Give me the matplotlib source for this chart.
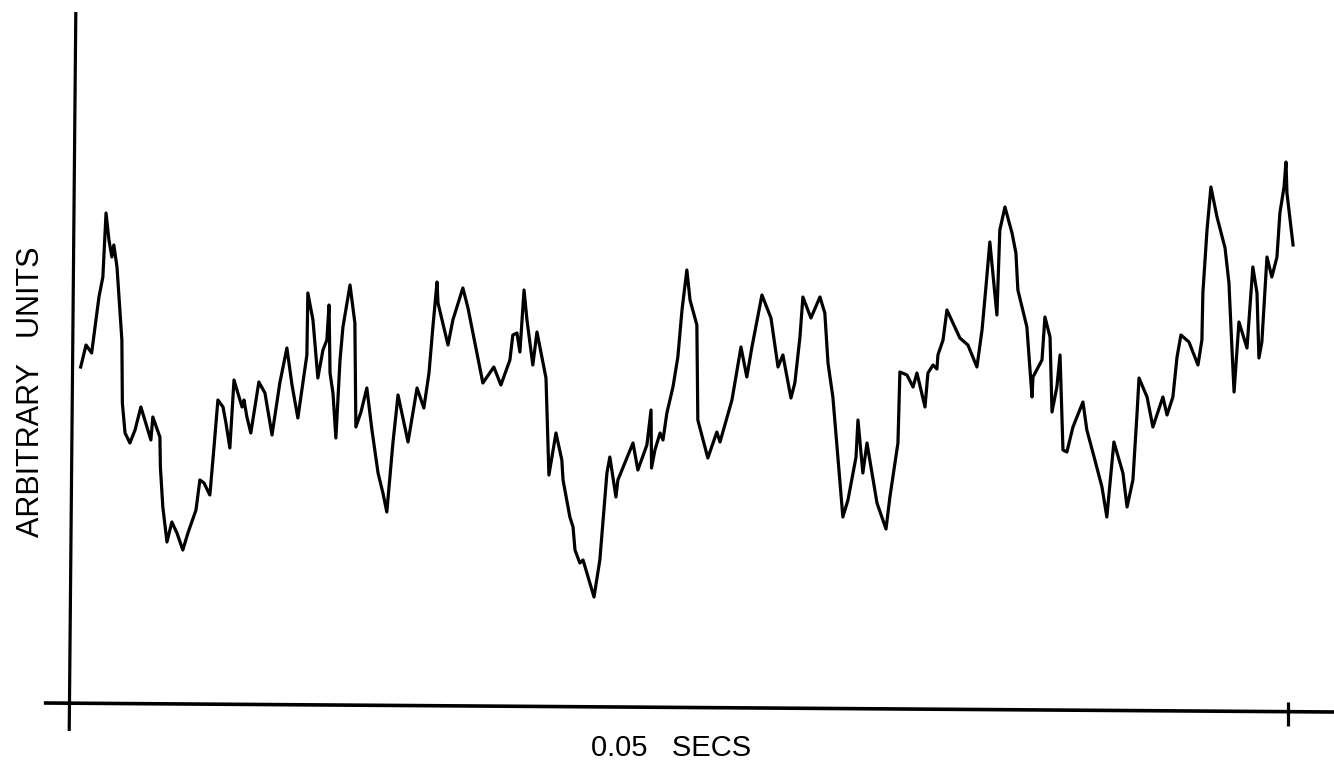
#!/usr/bin/env python3
"""Pen-recorder style trace of a signal over a 0.05 s window."""

import matplotlib

matplotlib.use("Agg")
import matplotlib.pyplot as plt

# time in ms, amplitude in arbitrary units (baseline = 0)
TIME_MS = [
    0.47, 0.69, 0.92, 1.22, 1.38, 1.51, 1.63, 1.75, 1.83, 1.96,
    2.16, 2.18, 2.29, 2.49, 2.70, 2.94, 3.19, 3.35, 3.43, 3.72,
    3.74, 3.84, 4.01, 4.21, 4.42, 4.66, 4.87, 5.20, 5.36, 5.53,
    5.77, 5.94, 6.10, 6.31, 6.43, 6.59, 6.76, 6.92, 7.09, 7.17,
    7.29, 7.45, 7.78, 8.03, 8.32, 8.64, 8.93, 9.14, 9.38, 9.75,
    9.79, 10.00, 10.20, 10.41, 10.57, 10.66, 10.70, 10.82, 10.94, 11.11,
    11.23, 11.52, 11.72, 11.76, 11.97, 12.21, 12.42, 12.67, 12.87, 13.03,
    13.28, 13.49, 13.90, 14.27, 14.55, 14.76, 14.92, 15.09, 15.13, 15.54,
    15.74, 16.15, 16.36, 16.97, 17.42, 17.71, 18.08, 18.20, 18.37, 18.49,
    18.66, 18.78, 19.02, 19.19, 19.56, 19.68, 19.97, 20.21, 20.26, 20.54,
    20.67, 20.75, 20.95, 21.08, 21.53, 21.77, 22.06, 22.18, 22.43, 22.51,
    23.13, 23.33, 23.70, 23.87, 23.89, 24.03, 24.24, 24.36, 24.52, 24.77,
    24.97, 25.14, 25.34, 25.47, 25.75, 25.79, 26.20, 26.57, 26.70, 27.19,
    27.56, 27.80, 28.01, 28.42, 28.79, 29.08, 29.28, 29.61, 29.77, 29.98,
    30.10, 30.43, 30.80, 31.00, 31.13, 31.33, 31.74, 31.95, 32.28, 32.36,
    32.56, 32.73, 33.14, 33.51, 33.67, 34.00, 34.08, 34.37, 34.62, 34.78,
    35.11, 35.23, 35.44, 35.60, 35.64, 35.85, 36.01, 36.54, 36.87, 37.24,
    37.45, 37.61, 37.77, 38.06, 38.18, 38.39, 38.68, 38.84, 38.92, 39.29,
    39.50, 39.54, 39.91, 40.03, 40.24, 40.32, 40.52, 40.65, 40.77, 40.93,
    41.18, 41.59, 41.75, 42.08, 42.37, 42.57, 42.86, 43.23, 43.40, 43.64,
    43.81, 43.89, 44.22, 44.46, 44.87, 45.04, 45.28, 45.45, 45.61, 45.94,
    46.31, 46.47, 46.51, 46.68, 46.84, 47.09, 47.42, 47.58, 47.70, 47.79,
    47.99, 48.32, 48.56, 48.73, 48.81, 48.93, 49.14, 49.34, 49.55, 49.67,
    49.84, 49.92, 49.96, 50.21,
]
AMPLITUDE = [
    3.36, 3.58, 3.50, 4.06, 4.26, 4.90, 4.63, 4.46, 4.58, 4.36,
    3.63, 3.00, 2.70, 2.60, 2.73, 2.96, 2.76, 2.63, 2.86, 2.66,
    2.36, 1.96, 1.61, 1.81, 1.70, 1.53, 1.70, 1.93, 2.23, 2.20,
    2.08, 2.56, 3.03, 2.96, 2.80, 2.55, 3.23, 3.10, 2.96, 3.03,
    2.86, 2.70, 3.21, 3.10, 2.68, 3.20, 3.55, 3.18, 2.85, 3.48,
    4.10, 3.83, 3.25, 3.53, 3.63, 3.98, 3.30, 3.10, 2.65, 3.43,
    3.76, 4.18, 3.80, 2.76, 2.91, 3.15, 2.73, 2.30, 2.10, 1.91,
    2.60, 3.08, 2.61, 3.15, 2.95, 3.30, 3.76, 4.21, 4.00, 3.58,
    3.83, 4.15, 3.95, 3.20, 3.36, 3.18, 3.43, 3.68, 3.70, 3.51,
    4.13, 3.83, 3.38, 3.71, 3.25, 2.28, 2.70, 2.43, 2.23, 1.86,
    1.76, 1.53, 1.40, 1.43, 1.06, 1.43, 2.30, 2.46, 2.06, 2.23,
    2.60, 2.33, 2.58, 2.93, 2.35, 2.53, 2.70, 2.63, 2.90, 3.16,
    3.46, 3.93, 4.33, 4.03, 3.78, 2.83, 2.45, 2.71, 2.61, 3.03,
    3.56, 3.26, 3.56, 4.08, 3.85, 3.36, 3.48, 3.05, 3.20, 3.66,
    4.06, 3.85, 4.06, 3.90, 3.40, 3.06, 1.86, 2.03, 2.46, 2.83,
    2.30, 2.60, 2.00, 1.74, 2.06, 2.60, 3.31, 3.28, 3.16, 3.30,
    2.96, 3.30, 3.38, 3.34, 3.48, 3.63, 3.93, 3.65, 3.58, 3.36,
    3.73, 4.16, 4.61, 3.88, 4.73, 4.96, 4.70, 4.50, 4.13, 3.76,
    3.06, 3.26, 3.43, 3.86, 3.66, 2.91, 3.16, 3.48, 2.53, 2.51,
    2.76, 3.01, 2.73, 2.43, 2.16, 1.86, 2.61, 2.30, 1.96, 2.23,
    2.90, 3.25, 3.06, 2.76, 3.06, 2.88, 3.06, 3.46, 3.68, 3.61,
    3.38, 3.63, 4.10, 4.73, 5.16, 4.86, 4.55, 4.20, 3.56, 3.11,
    3.81, 3.55, 4.36, 4.10, 3.45, 3.61, 4.46, 4.26, 4.46, 4.90,
    5.16, 5.41, 5.10, 4.58,
]
assert len(TIME_MS) == len(AMPLITUDE)

WINDOW_MS = 50.0  # marked span on the time axis
XLABEL = "0.05   SECS"
YLABEL = "ARBITRARY   UNITS"

INK = "black"
LW = 2.3

fig = plt.figure(figsize=(13.34, 7.65), dpi=100)
ax = fig.add_axes([0, 0, 1, 1])
ax.set_xlim(-2.84, 51.89)
ax.set_ylim(-0.62, 7.03)
ax.axis("off")

# hand-drawn looking axes: vertical leans a touch, baseline sags slightly to the right
ax.plot([0.0, 0.27], [-0.28, 6.91], color=INK, lw=LW, solid_capstyle="butt")
ax.plot([-1.04, 51.89], [0.0, -0.09], color=INK, lw=LW + 0.3, solid_capstyle="butt")
ax.plot([WINDOW_MS, WINDOW_MS], [0.01, -0.23], color=INK, lw=LW, solid_capstyle="butt")

ax.plot(TIME_MS, AMPLITUDE, color=INK, lw=LW, solid_joinstyle="round")

fig.text(0.503, 0.022, XLABEL, ha="center", va="center",
         fontsize=21, family="Liberation Sans", color=INK)
fig.text(0.0235, 0.488, YLABEL, ha="center", va="center", rotation=90,
         fontsize=22, family="Liberation Sans", color=INK)

fig.savefig("out.png", dpi=100, facecolor="white")
plt.close(fig)
